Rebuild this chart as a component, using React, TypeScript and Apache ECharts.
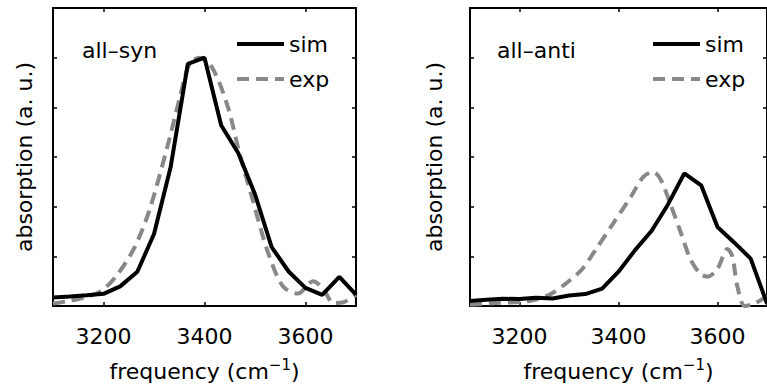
import React, { useEffect, useRef } from "react";
import * as echarts from "echarts";

// ---- data ----
const simFreq = [3100, 3133, 3167, 3200, 3233, 3267, 3300, 3333, 3367, 3400, 3433, 3467, 3500, 3533, 3567, 3600, 3633, 3667, 3700];
const synSim = [0.034, 0.038, 0.043, 0.049, 0.079, 0.138, 0.29, 0.56, 0.975, 1.0, 0.728, 0.615, 0.45, 0.237, 0.138, 0.073, 0.045, 0.117, 0.046];
const antiSim = [0.02, 0.025, 0.029, 0.028, 0.033, 0.03, 0.042, 0.048, 0.07, 0.138, 0.224, 0.303, 0.409, 0.534, 0.486, 0.318, 0.257, 0.191, 0.01];

const synExpFreq = [3100, 3130, 3160, 3195, 3225, 3260, 3290, 3325, 3350, 3370, 3390, 3415, 3445, 3470, 3495, 3525, 3555, 3585, 3615, 3635, 3655, 3675, 3700];
const synExp = [0.01, 0.02, 0.033, 0.06, 0.12, 0.23, 0.38, 0.63, 0.83, 0.975, 1.0, 0.96, 0.81, 0.61, 0.43, 0.22, 0.08, 0.05, 0.1, 0.07, 0.012, 0.015, 0.045];

const antiExpFreq = [3100, 3160, 3220, 3260, 3290, 3325, 3355, 3390, 3425, 3450, 3470, 3485, 3505, 3525, 3545, 3565, 3580, 3600, 3620, 3630, 3640, 3655, 3675, 3700];
const antiExp = [0.005, 0.013, 0.02, 0.045, 0.085, 0.145, 0.23, 0.335, 0.44, 0.52, 0.54, 0.51, 0.41, 0.3, 0.19, 0.13, 0.118, 0.15, 0.23, 0.2, 0.08, 0.0, 0.01, 0.04];

const xTicks = [3200, 3400, 3600];
const panelLabels = ["all–syn", "all–anti"];
const seriesNames = ["sim", "exp"];
const xName = "frequency (cm";
const xNameSup = "−1";
const yName = "absorption (a. u.)";

const FONT = '"DejaVu Sans", sans-serif';
const FS = 22;

const pairs = (xs: number[], ys: number[]) => xs.map((x, i) => [x, ys[i]]);

function buildOption() {
  const grids = [
    { left: 53, right: 411, top: 8, bottom: 75 },
    { left: 470, right: -5, top: 8, bottom: 75 },
  ];
  const axisLine = { show: true, onZero: false, lineStyle: { color: "#000", width: 2 } };
  const tick = { show: true, inside: true, length: 4, lineStyle: { color: "#000", width: 1.5 } };
  const xAxis: any[] = [];
  const yAxis: any[] = [];
  const yNameGaps = [18, 25];
  grids.forEach((_, gi) => {
    xAxis.push({
      gridIndex: gi,
      type: "value",
      position: "bottom",
      min: 3100,
      max: 3700,
      axisLine,
      axisTick: { ...tick, customValues: xTicks },
      axisLabel: {
        show: true,
        customValues: xTicks,
        margin: 19,
        fontSize: FS,
        fontFamily: FONT,
        color: "#000",
        formatter: (v: number) => String(v),
      },
      splitLine: { show: false },
      name: `{n|${xName}}{s|${xNameSup}}{n|)}`,
      nameLocation: "middle",
      nameGap: 51,
      nameTextStyle: {
        color: "#000",
        fontFamily: FONT,
        rich: {
          n: { fontSize: FS, fontFamily: FONT, color: "#000", verticalAlign: "bottom" },
          s: { fontSize: 15, fontFamily: FONT, color: "#000", verticalAlign: "top", padding: [0, 0, 10, 0] },
        },
      },
    });
    xAxis.push({
      gridIndex: gi,
      type: "value",
      position: "top",
      min: 3100,
      max: 3700,
      axisLine,
      axisTick: { ...tick, customValues: xTicks },
      axisLabel: { show: false },
      splitLine: { show: false },
    });
    yAxis.push({
      gridIndex: gi,
      type: "value",
      position: "left",
      min: 0,
      max: 1.2,
      interval: 0.2,
      axisLine,
      axisTick: tick,
      axisLabel: { show: false },
      splitLine: { show: false },
      name: yName,
      nameLocation: "middle",
      nameGap: yNameGaps[gi],
      nameTextStyle: { fontSize: FS, fontFamily: FONT, color: "#000" },
    });
    yAxis.push({
      gridIndex: gi,
      type: "value",
      position: "right",
      min: 0,
      max: 1.2,
      interval: 0.2,
      axisLine,
      axisTick: tick,
      axisLabel: { show: false },
      splitLine: { show: false },
    });
  });

  const simStyle = { color: "#000", width: 4, type: "solid" };
  const expStyle = { color: "#888888", width: 4, type: [12, 7] };
  const sims = [synSim, antiSim];
  const exps = [pairs(synExpFreq, synExp), pairs(antiExpFreq, antiExp)];
  const series: any[] = [];
  [0, 1].forEach((gi) => {
    series.push({
      type: "line",
      name: seriesNames[1],
      xAxisIndex: gi * 2,
      yAxisIndex: gi * 2,
      data: exps[gi],
      symbol: "none",
      smooth: 0.3,
      lineStyle: expStyle,
      itemStyle: { color: "#888888" },
      clip: true,
      z: 2,
    });
    series.push({
      type: "line",
      name: seriesNames[0],
      xAxisIndex: gi * 2,
      yAxisIndex: gi * 2,
      data: pairs(simFreq, sims[gi]),
      symbol: "none",
      lineStyle: simStyle,
      itemStyle: { color: "#000" },
      clip: true,
      z: 3,
    });
  });

  const legendBase = {
    orient: "vertical",
    top: 33,
    padding: 0,
    itemWidth: 47,
    itemHeight: 14,
    itemGap: 13,
    selectedMode: false,
    data: seriesNames,
    itemStyle: { opacity: 0 },
    lineStyle: { width: 4 },
    textStyle: { fontSize: FS, fontFamily: FONT, color: "#000" },
  };

  return {
    animation: false,
    backgroundColor: "#fff",
    grid: grids,
    xAxis,
    yAxis,
    series,
    legend: [
      { ...legendBase, left: 235 },
      { ...legendBase, left: 651 },
    ],
    graphic: [
      { type: "text", x: 82, y: 50, style: { text: panelLabels[0], fontSize: FS, fontFamily: FONT, fill: "#000", verticalAlign: "middle", align: "left" } },
      { type: "text", x: 497, y: 50, style: { text: panelLabels[1], fontSize: FS, fontFamily: FONT, fill: "#000", verticalAlign: "middle", align: "left" } },
    ],
  };
}

export default function App() {
  const ref = useRef<HTMLDivElement>(null);
  useEffect(() => {
    if (!ref.current) return;
    const chart = echarts.init(ref.current, null, { renderer: "svg" });
    chart.setOption(buildOption() as any);
    return () => chart.dispose();
  }, []);
  return (
    <div
      ref={ref}
      style={{ position: "fixed", left: 0, top: 0, width: 767, height: 387, background: "#fff" }}
    />
  );
}
